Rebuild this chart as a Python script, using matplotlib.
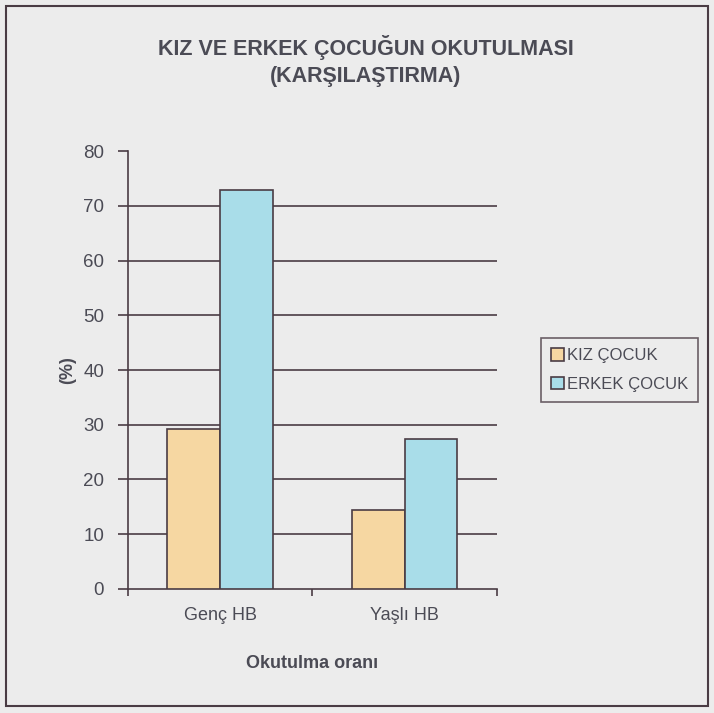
import numpy as np
import matplotlib.pyplot as plt
from matplotlib.patches import Rectangle

categories = ["Genç HB", "Yaşlı HB"]
kiz = [29.2, 14.4]
erkek = [72.9, 27.4]
series_names = ["KIZ ÇOCUK", "ERKEK ÇOCUK"]
yticks = [0, 10, 20, 30, 40, 50, 60, 70, 80]

bg = "#ececec"
dark = "#4a3c44"
txt = "#4b4b55"

plt.rcParams['font.family'] = ['Liberation Sans', 'DejaVu Sans']

fig = plt.figure(figsize=(7.14, 7.13), dpi=100, facecolor=bg)
ax = fig.add_axes([0.179, 0.174, 0.517, 0.614])
ax.set_facecolor(bg)

x = np.arange(len(categories))
w = 0.285
ax.bar(x - w / 2, kiz, w, color="#f6d7a2", edgecolor=dark, linewidth=1.2, label=series_names[0], zorder=3)
ax.bar(x + w / 2, erkek, w, color="#a9dde9", edgecolor=dark, linewidth=1.2, label=series_names[1], zorder=3)

ax.set_xlim(-0.5, 1.5)
ax.set_ylim(0, 80)
ax.set_yticks(yticks)
# no gridline on the top tick
for v in yticks[1:-1]:
  ax.axhline(v, color=dark, linewidth=1.2, zorder=1)

ax.spines["top"].set_visible(False)
ax.spines["right"].set_visible(False)
ax.spines["left"].set_color(dark)
ax.spines["bottom"].set_color(dark)
ax.spines["left"].set_linewidth(1.2)
ax.spines["bottom"].set_linewidth(1.2)

ax.tick_params(axis="y", length=7, width=1.2, color=dark, labelsize=13.5, labelcolor=txt, pad=10)
ax.set_xticks(x)
ax.set_xticklabels(categories)
ax.tick_params(axis="x", length=0, labelsize=13, labelcolor=txt, pad=13)
ax.set_xticks([-0.5, 0.5, 1.5], minor=True)
ax.tick_params(axis="x", which="minor", length=5, width=1.2, color=dark)

ax.set_ylabel("(%)", fontsize=13, fontweight="bold", color=txt, labelpad=5)
ax.set_xlabel("Okutulma oranı", fontsize=13, fontweight="bold", color=txt, labelpad=22)

fig.text(0.512, 0.933, "KIZ VE ERKEK ÇOCUĞUN OKUTULMASI", ha="center", va="center",
         fontsize=15.5, fontweight="bold", color=txt)
fig.text(0.512, 0.893, "(KARŞILAŞTIRMA)", ha="center", va="center",
         fontsize=15.5, fontweight="bold", color=txt)

leg = ax.legend(loc="center left", bbox_to_anchor=(1.12, 0.5), frameon=True, fancybox=False,
                fontsize=12, handlelength=0.75, handleheight=0.75, handletextpad=0.2,
                borderpad=0.6, labelspacing=0.8, borderaxespad=0)
leg.get_frame().set_edgecolor(dark)
leg.get_frame().set_facecolor(bg)
leg.get_frame().set_linewidth(1.2)
for t in leg.get_texts():
  t.set_color(txt)

fig.patches.append(Rectangle((0.008, 0.01), 0.984, 0.982, transform=fig.transFigure,
                             fill=False, edgecolor=dark, linewidth=1.5))

fig.savefig("out.png", dpi=100, facecolor=bg)
